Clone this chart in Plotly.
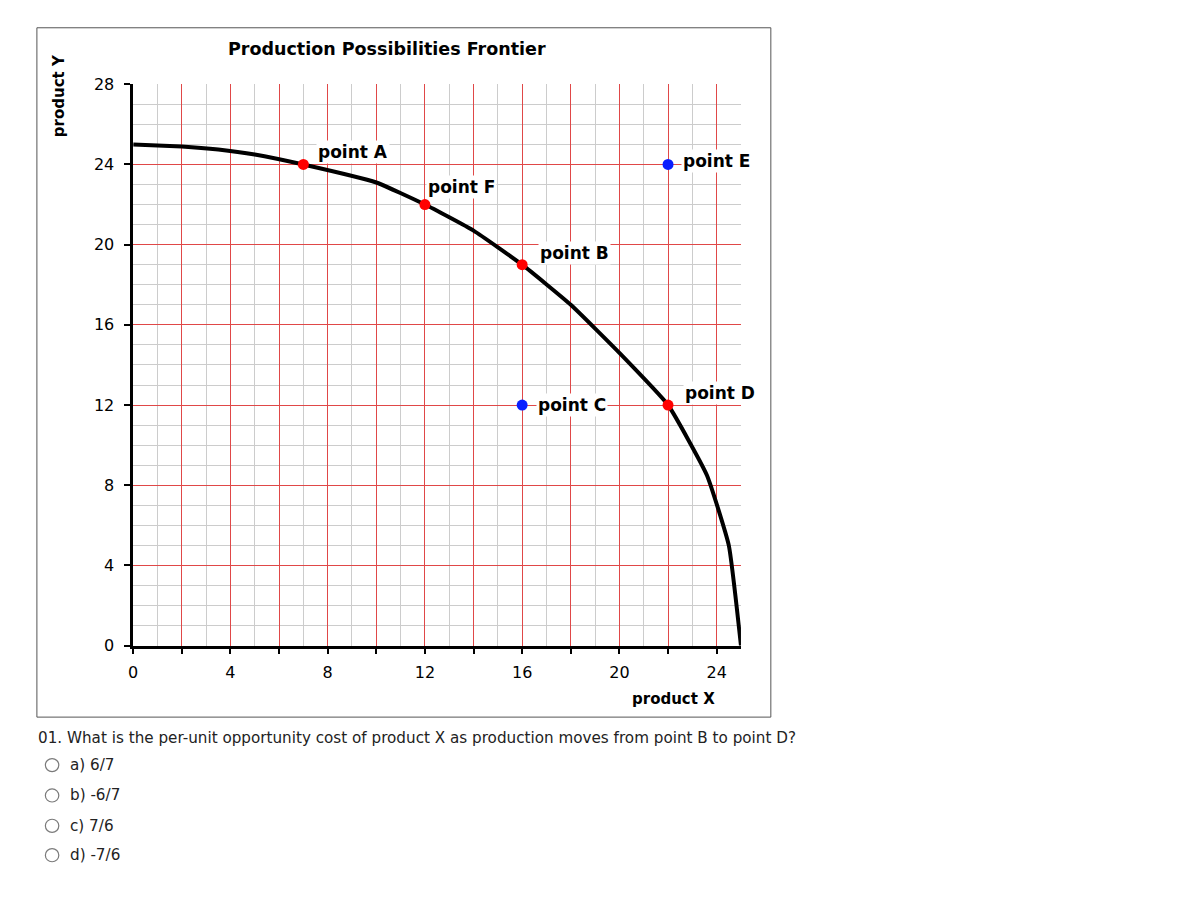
import plotly.graph_objects as go

W, H = 1200, 913

# PPF curve (product X, product Y)
curve_x = [0, 1, 2, 3.5, 5, 7, 10, 12, 14, 16, 18, 20, 22, 23.6, 24.5, 25]
curve_y = [25, 24.95, 24.9, 24.75, 24.5, 24, 23.1, 22, 20.7, 19, 17, 14.6, 12, 8.5, 5, 0]

# labelled points
point_names = ["point A", "point F", "point B", "point C", "point E", "point D"]
point_x = [7, 12, 16, 16, 22, 22]
point_y = [24, 22, 19, 12, 24, 12]
point_colors = ["#ff0000", "#ff0000", "#ff0000", "#0a1fff", "#0a1fff", "#ff0000"]
label_shift = [(13, 12), (1, 18), (16, 12), (14, 0), (13, 3), (15, 12)]

x_tickvals = [0, 2, 4, 6, 8, 10, 12, 14, 16, 18, 20, 22, 24]
x_ticktext = ["0", "", "4", "", "8", "", "12", "", "16", "", "20", "", "24"]
y_tickvals = [0, 4, 8, 12, 16, 20, 24, 28]

question = "01. What is the per-unit opportunity cost of product X as production moves from point B to point D?"
options = ["a) 6/7", "b) -6/7", "c) 7/6", "d) -7/6"]

# page pixel -> paper coords (the page body adds an 8px margin)
def px(x):
    return (x - 8) / W


def py(y):
    return 1 - (y - 8) / H


FONT = "DejaVu Sans, sans-serif"

fig = go.Figure()

fig.add_trace(go.Scatter(x=curve_x, y=curve_y, mode="lines",
                         line=dict(color="black", width=4, shape="spline", smoothing=0.4),
                         hoverinfo="skip", cliponaxis=False))

fig.add_trace(go.Scatter(x=point_x, y=point_y, mode="markers",
                         marker=dict(color=point_colors, size=11),
                         text=point_names, cliponaxis=False))

annotations = []
for name, x, y, (dx, dy) in zip(point_names, point_x, point_y, label_shift):
    annotations.append(dict(
        x=x, y=y, xref="x", yref="y", text="<b>%s</b>" % name,
        showarrow=False, xanchor="left", yanchor="middle",
        xshift=dx, yshift=dy, bgcolor="white", borderpad=1,
        font=dict(family=FONT, size=17, color="black")))

annotations.append(dict(
    x=px(384), y=py(41), xref="paper", yref="paper",
    text="<b>Production Possibilities Frontier</b>", showarrow=False,
    xanchor="center", yanchor="middle",
    font=dict(family=FONT, size=17.5, color="black")))

annotations.append(dict(
    x=px(55), y=py(88), xref="paper", yref="paper",
    text="<b>product Y</b>", showarrow=False, textangle=-90,
    xanchor="center", yanchor="middle",
    font=dict(family=FONT, size=15, color="black")))

annotations.append(dict(
    x=px(671), y=py(705), xref="paper", yref="paper",
    text="<b>product X</b>", showarrow=False,
    xanchor="center", yanchor="middle",
    font=dict(family=FONT, size=15, color="black")))

annotations.append(dict(
    x=px(31), y=py(744), xref="paper", yref="paper",
    text=question, showarrow=False, xanchor="left", yanchor="middle",
    font=dict(family=FONT, size=15.2, color="#222222")))

shapes = [dict(type="rect", xref="paper", yref="paper",
               x0=px(32), x1=px(769), y0=py(723), y1=py(19),
               line=dict(color="#555555", width=1))]

opt_y = [772, 803, 834, 864]
for label, oy in zip(options, opt_y):
    annotations.append(dict(
        x=px(63), y=py(oy), xref="paper", yref="paper",
        text=label, showarrow=False, xanchor="left", yanchor="middle",
        font=dict(family=FONT, size=15.2, color="#222222")))
    shapes.append(dict(type="circle", xref="paper", yref="paper",
                       x0=px(40.5), x1=px(54), y0=py(oy + 6.7), y1=py(oy - 6.7),
                       line=dict(color="#7a7a7a", width=1.2)))

fig.update_layout(
    width=W, height=H,
    margin=dict(l=0, r=0, t=0, b=0),
    paper_bgcolor="white", plot_bgcolor="white",
    showlegend=False,
    annotations=annotations,
    shapes=shapes,
    xaxis=dict(
        domain=[px(128.7), px(739)], range=[0, 25],
        tickmode="array", tickvals=x_tickvals, ticktext=x_ticktext,
        showgrid=True, gridcolor="#e04848", gridwidth=1,
        zeroline=False, showline=True, linecolor="black", linewidth=2.5,
        ticks="outside", ticklen=6, tickwidth=2, tickcolor="black",
        ticklabelstandoff=4,
        tickfont=dict(family=FONT, size=16, color="black"),
        minor=dict(tickmode="linear", tick0=0, dtick=1, showgrid=True,
                   gridcolor="#cccccc", gridwidth=1, ticks=""),
    ),
    yaxis=dict(
        domain=[py(650), py(76.7)], range=[0, 28],
        tickmode="array", tickvals=y_tickvals,
        showgrid=True, gridcolor="#e04848", gridwidth=1,
        zeroline=False, showline=True, linecolor="black", linewidth=2.5,
        ticks="outside", ticklen=6, tickwidth=2, tickcolor="black",
        ticklabelstandoff=7,
        tickfont=dict(family=FONT, size=16, color="black"),
        minor=dict(tickmode="linear", tick0=0, dtick=1, showgrid=True,
                   gridcolor="#cccccc", gridwidth=1, ticks=""),
    ),
)

fig.write_html("out.html")
